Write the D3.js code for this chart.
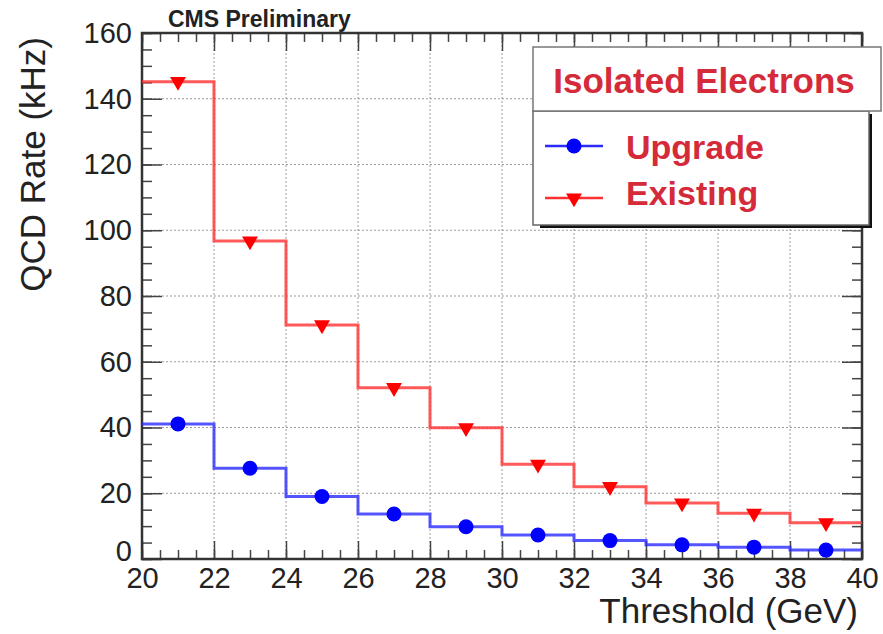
<!DOCTYPE html>
<html><head><meta charset="utf-8">
<script src="https://cdn.jsdelivr.net/npm/d3@7"></script>
<style>body{margin:0;background:#fff} svg{display:block}</style>
</head><body><svg id="c" width="883" height="634"></svg>
<script>
// Threshold bin edges (GeV) and QCD rates (kHz) per bin
const thresholds = [20, 22, 24, 26, 28, 30, 32, 34, 36, 38, 40];
const existingRate = [145.2, 96.7, 71.2, 52.1, 39.9, 28.8, 22.0, 17.0, 13.9, 11.0];
const upgradeRate = [41.1, 27.6, 19.0, 13.7, 9.8, 7.3, 5.6, 4.3, 3.6, 2.7];
const xTicks = [20, 22, 24, 26, 28, 30, 32, 34, 36, 38, 40];
const yTicks = [0, 20, 40, 60, 80, 100, 120, 140, 160];
const legendTitle = "Isolated Electrons";
const seriesNames = ["Upgrade", "Existing"];

const FONT = "'Liberation Sans', Arial, Helvetica, sans-serif";
const RED = "#ff3030", BLUE = "#2a2aff", TXT_RED = "#d42a3a";

const svg = d3.select("#c");
const L = 142, R = 862, T = 33, B = 559;
const x = d3.scaleLinear().domain([20, 40]).range([L, R]);
const y = d3.scaleLinear().domain([0, 160]).range([B, T]);

// dotted grid at major ticks
const grid = svg.append("g").attr("stroke", "#9a9a9a").attr("stroke-width", 1).attr("stroke-dasharray", "2,2");
grid.selectAll("line.gx").data(xTicks.slice(1, -1)).join("line")
  .attr("x1", d => x(d)).attr("x2", d => x(d)).attr("y1", T).attr("y2", B);
grid.selectAll("line.gy").data(yTicks.slice(1, -1)).join("line")
  .attr("y1", d => y(d)).attr("y2", d => y(d)).attr("x1", L).attr("x2", R);

// axes with inward ticks on all four sides
const minorX = d3.range(20, 40.001, 0.5);
const minorY = d3.range(0, 160.001, 5);
function styleAxis(g) {
  g.select(".domain").remove();
  g.selectAll(".tick line").attr("stroke", "#444").attr("stroke-width", 1.5);
  g.selectAll("text").attr("font-family", FONT).attr("font-size", 29).attr("fill", "#222");
}
svg.append("g").attr("transform", `translate(0,${B})`)
  .call(d3.axisBottom(x).tickValues(minorX).tickSize(-9).tickFormat("")).call(styleAxis);
svg.append("g").attr("transform", `translate(0,${B})`)
  .call(d3.axisBottom(x).tickValues(xTicks).tickSize(-18).tickPadding(8).tickFormat(d3.format("d"))).call(styleAxis);
svg.append("g").attr("transform", `translate(0,${T})`)
  .call(d3.axisTop(x).tickValues(minorX).tickSize(-9).tickFormat("")).call(styleAxis);
svg.append("g").attr("transform", `translate(0,${T})`)
  .call(d3.axisTop(x).tickValues(xTicks).tickSize(-18).tickFormat("")).call(styleAxis);
svg.append("g").attr("transform", `translate(${L},0)`)
  .call(d3.axisLeft(y).tickValues(minorY).tickSize(-10).tickFormat("")).call(styleAxis);
const yAxisG = svg.append("g").attr("transform", `translate(${L},0)`)
  .call(d3.axisLeft(y).tickValues(yTicks).tickSize(-20).tickPadding(10).tickFormat(d3.format("d"))).call(styleAxis);
// lift the zero label a little so it clears the first x label
yAxisG.selectAll(".tick").filter(d => d === 0).select("text").attr("dy", "0.05em");
svg.append("g").attr("transform", `translate(${R},0)`)
  .call(d3.axisRight(y).tickValues(minorY).tickSize(-10).tickFormat("")).call(styleAxis);
svg.append("g").attr("transform", `translate(${R},0)`)
  .call(d3.axisRight(y).tickValues(yTicks).tickSize(-20).tickFormat("")).call(styleAxis);

// frame
svg.append("rect").attr("x", L).attr("y", T).attr("width", R - L).attr("height", B - T)
  .attr("fill", "none").attr("stroke", "#333").attr("stroke-width", 2.5);

// step histograms
const step = d3.line().x(d => x(d[0])).y(d => y(d[1])).curve(d3.curveStepAfter);
function stepPts(vals) {
  const p = vals.map((v, i) => [thresholds[i], v]);
  p.push([thresholds[thresholds.length - 1], vals[vals.length - 1]]);
  return p;
}
svg.append("path").attr("d", step(stepPts(existingRate))).attr("fill", "none")
  .attr("stroke", RED).attr("stroke-width", 3).attr("stroke-opacity", 0.8);
svg.append("path").attr("d", step(stepPts(upgradeRate))).attr("fill", "none")
  .attr("stroke", BLUE).attr("stroke-width", 3).attr("stroke-opacity", 0.8);

const mid = i => (thresholds[i] + thresholds[i + 1]) / 2;
const tri = d3.symbol(d3.symbolTriangle, 110);
svg.append("g").selectAll("path").data(existingRate).join("path")
  .attr("d", tri).attr("fill", "#ff0000")
  .attr("transform", (d, i) => `translate(${x(mid(i))},${y(d)}) rotate(180)`);
svg.append("g").selectAll("circle").data(upgradeRate).join("circle")
  .attr("cx", (d, i) => x(mid(i))).attr("cy", d => y(d)).attr("r", 7.5).attr("fill", "#0000ff");

// titles
svg.append("text").attr("x", 168).attr("y", 27).attr("font-family", FONT).attr("font-weight", "bold")
  .attr("font-size", 23).attr("fill", "#222").text("CMS Preliminary");
svg.append("text").attr("x", 858).attr("y", 623).attr("text-anchor", "end").attr("font-family", FONT)
  .attr("font-size", 35).attr("fill", "#222").text("Threshold (GeV)");
svg.append("text").attr("transform", "translate(45,37) rotate(-90)").attr("text-anchor", "end")
  .attr("font-family", FONT).attr("font-size", 35).attr("fill", "#222").text("QCD Rate (kHz)");

// legend
const lg = svg.append("g");
lg.append("rect").attr("x", 540).attr("y", 114).attr("width", 332).attr("height", 114).attr("fill", "#111");
lg.append("rect").attr("x", 533).attr("y", 111).attr("width", 336).attr("height", 114)
  .attr("fill", "#fff").attr("stroke", "#666").attr("stroke-width", 1.5);
lg.append("rect").attr("x", 533).attr("y", 47).attr("width", 348).attr("height", 64)
  .attr("fill", "#fff").attr("stroke", "#777").attr("stroke-width", 1.5);
lg.append("text").attr("x", 704).attr("y", 93).attr("text-anchor", "middle").attr("font-family", FONT)
  .attr("font-weight", "bold").attr("font-size", 35).attr("fill", TXT_RED).text(legendTitle);
const rows = [{name: seriesNames[0], color: BLUE, yy: 146, ty: 159, mark: "circle"},
              {name: seriesNames[1], color: RED, yy: 198, ty: 205, mark: "tri"}];
rows.forEach(r => {
  lg.append("line").attr("x1", 545).attr("x2", 603).attr("y1", r.yy).attr("y2", r.yy)
    .attr("stroke", r.color).attr("stroke-width", 2.5);
  if (r.mark === "circle") lg.append("circle").attr("cx", 574).attr("cy", r.yy).attr("r", 7.5).attr("fill", "#0000ff");
  else lg.append("path").attr("d", tri).attr("fill", "#ff0000").attr("transform", `translate(574,${r.yy}) rotate(180)`);
  lg.append("text").attr("x", 626).attr("y", r.ty).attr("font-family", FONT).attr("font-weight", "bold")
    .attr("font-size", 34).attr("fill", TXT_RED).text(r.name);
});
</script></body></html>
